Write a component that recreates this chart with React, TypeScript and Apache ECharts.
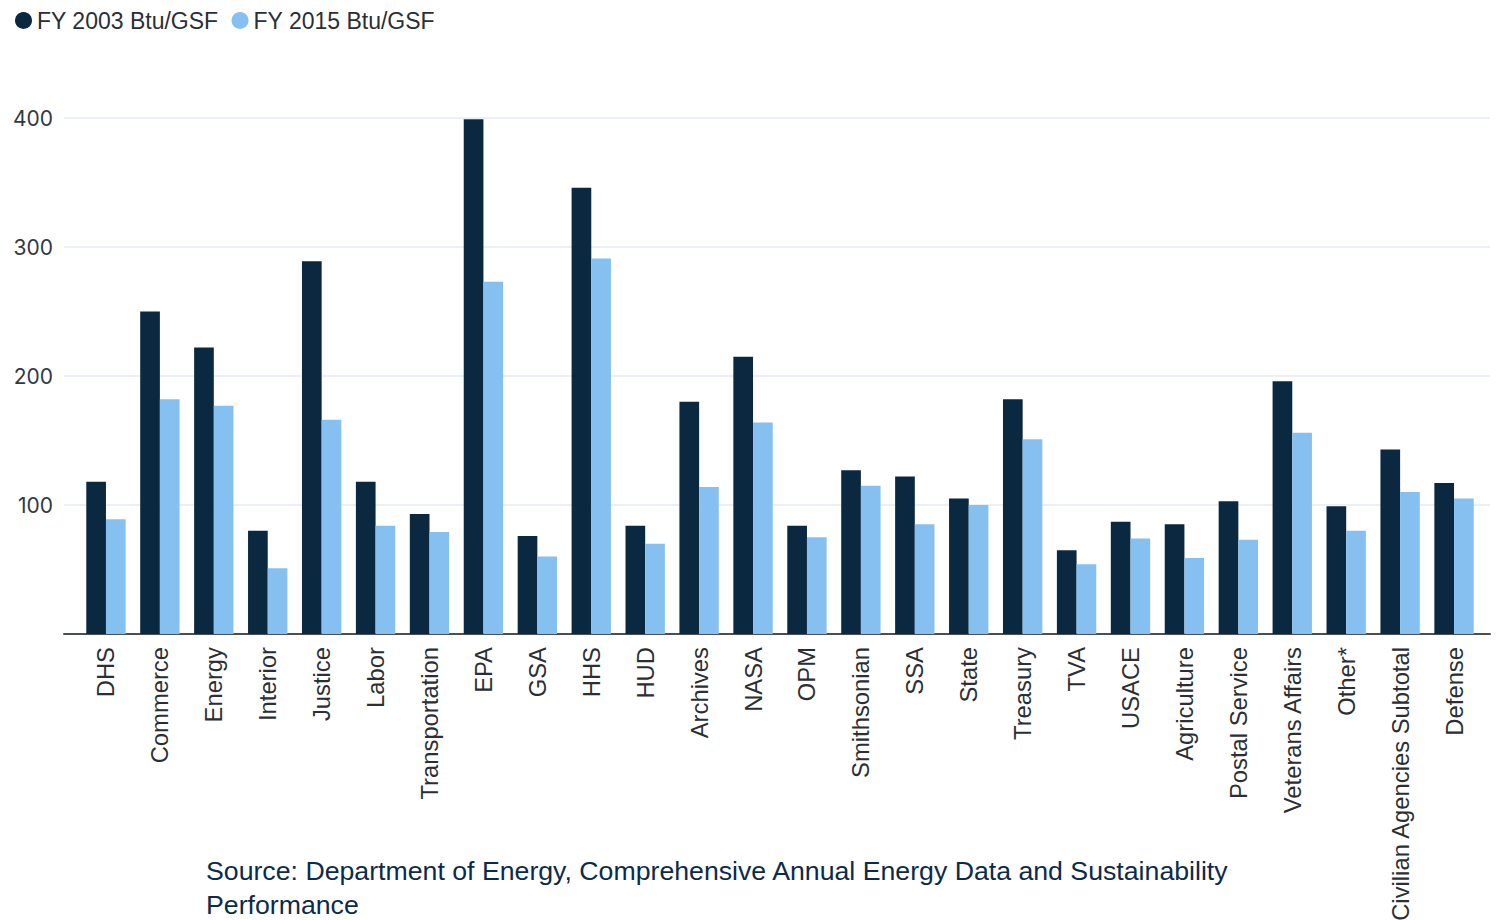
import React, { useEffect, useRef } from "react";
import * as echarts from "echarts";

const categories = [
  "DHS", "Commerce", "Energy", "Interior", "Justice", "Labor", "Transportation",
  "EPA", "GSA", "HHS", "HUD", "Archives", "NASA", "OPM", "Smithsonian", "SSA",
  "State", "Treasury", "TVA", "USACE", "Agriculture", "Postal Service",
  "Veterans Affairs", "Other*", "Civilian Agencies Subtotal", "Defense",
];
const fy2003 = [
  118, 250, 222, 80, 289, 118, 93, 399, 76, 346, 84, 180, 215, 84, 127, 122,
  105, 182, 65, 87, 85, 103, 196, 99, 143, 117,
];
const fy2015 = [
  89, 182, 177, 51, 166, 84, 79, 273, 60, 291, 70, 114, 164, 75, 115, 85,
  100, 151, 54, 74, 59, 73, 156, 80, 110, 105,
];
const yTicks = [0, 100, 200, 300, 400];
const seriesNames = ["FY 2003 Btu/GSF", "FY 2015 Btu/GSF"];
const sourceText =
  "Source: Department of Energy, Comprehensive Annual Energy Data and Sustainability\nPerformance";

const DARK = "#0a2840";
const LIGHT = "#86c0f0";

export default function App() {
  const ref = useRef<HTMLDivElement>(null);
  useEffect(() => {
    if (!ref.current) return;
    const chart = echarts.init(ref.current, null, { renderer: "svg" });
    const yMin = yTicks[0];
    const yMax = yTicks[yTicks.length - 1];
    const interval = yTicks[1] - yTicks[0];
    chart.setOption({
      animation: false,
      backgroundColor: "#ffffff",
      legend: {
        left: 10,
        top: 4,
        icon: "circle",
        itemWidth: 17,
        itemHeight: 17,
        itemGap: 13,
        textStyle: { fontSize: 23, fontFamily: "Liberation Sans, Arial", color: "#2b2f33" },
        data: seriesNames,
      },
      grid: [
        { left: 64, right: 9, top: 118, bottom: 286, outerBoundsMode: "none", containLabel: false },
        { left: 79, right: 18, top: 118, bottom: 286, outerBoundsMode: "none", containLabel: false },
      ],
      xAxis: [
        {
          type: "category",
          gridIndex: 0,
          data: [""],
          axisLine: { show: true, lineStyle: { color: "#4a4f55", width: 2 } },
          axisTick: { show: false },
          axisLabel: { show: false },
          splitLine: { show: false },
        },
        {
          type: "category",
          gridIndex: 1,
          data: categories,
          axisLine: { show: false },
          axisTick: { show: false },
          axisLabel: {
            rotate: 90,
            margin: 13,
            interval: 0,
            fontSize: 23.8,
            fontFamily: "Liberation Sans, Arial",
            color: "#2b2f33",
          },
        },
      ],
      yAxis: [
        {
          type: "value",
          gridIndex: 0,
          min: yMin,
          max: yMax,
          interval,
          axisLine: { show: false },
          axisTick: { show: false },
          splitLine: { show: true, lineStyle: { color: "#e4ebf3", width: 1.5 } },
          axisLabel: {
            showMinLabel: false,
            margin: 11,
            fontSize: 21,
            fontFamily: "Inter, Lato, sans-serif",
            color: "#2f3a44",
          },
        },
        {
          type: "value",
          gridIndex: 1,
          min: yMin,
          max: yMax,
          interval,
          show: false,
          splitLine: { show: false },
        },
      ],
      series: [
        {
          name: seriesNames[0],
          type: "bar",
          xAxisIndex: 1,
          yAxisIndex: 1,
          data: fy2003,
          barGap: "0%",
          barCategoryGap: "27%",
          itemStyle: { color: DARK },
        },
        {
          name: seriesNames[1],
          type: "bar",
          xAxisIndex: 1,
          yAxisIndex: 1,
          data: fy2015,
          barGap: "0%",
          barCategoryGap: "27%",
          itemStyle: { color: LIGHT },
        },
      ],
      graphic: [
        {
          type: "text",
          left: 206,
          top: 854,
          style: {
            text: sourceText,
            font: "26.7px 'Liberation Sans', Arial",
            fill: "#0c2b4a",
            lineHeight: 34,
          },
        },
      ],
    });
    return () => chart.dispose();
  }, []);
  return (
    <div
      ref={ref}
      style={{ position: "fixed", left: 0, top: 0, width: 1499, height: 920, background: "#fff" }}
    />
  );
}
